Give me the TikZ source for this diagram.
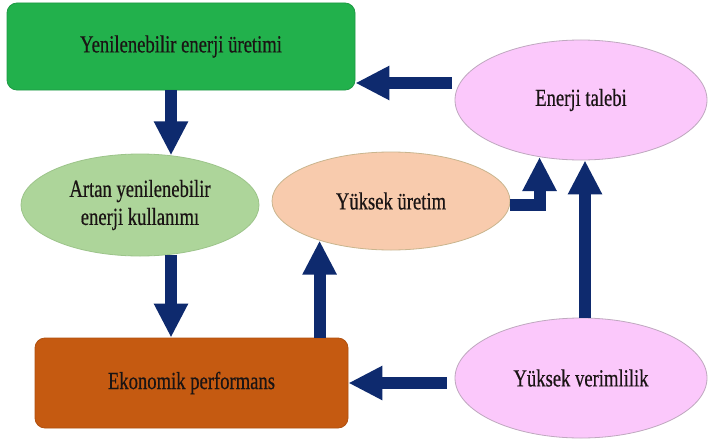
\documentclass[tikz,border=0pt]{standalone}
\usepackage{fontspec}
\setmainfont{Liberation Serif}
\newfontfamily\tfont{Liberation Serif}[FakeBold=0.6]
\usepackage{graphicx}
\usetikzlibrary{arrows.meta,shapes.geometric}
\definecolor{navy}{HTML}{0E2A6E}
\definecolor{gbox}{HTML}{22B14C}
\definecolor{gboxd}{HTML}{1E9A44}
\definecolor{lgreen}{HTML}{ADD59A}
\definecolor{lgreend}{HTML}{9CC48A}
\definecolor{peach}{HTML}{F8CBAD}
\definecolor{peachd}{HTML}{C9B58E}
\definecolor{pinkv}{HTML}{FBC8FB}
\definecolor{pinkvd}{HTML}{BFA8BF}
\definecolor{brown}{HTML}{C55A11}
\definecolor{brownd}{HTML}{B0500F}
\definecolor{txt}{HTML}{1A1414}
\newcommand{\tx}[1]{\scalebox{0.76}[1]{#1}}
\begin{document}
\begin{tikzpicture}[x=1pt,y=-1pt,
  every node/.style={text=txt,font=\tfont\fontsize{24.5}{30}\selectfont},
  boxnode/.style={rectangle,rounded corners=10pt,line width=0.8pt,inner sep=0pt},
  ellnode/.style={ellipse,line width=0.8pt,inner sep=0pt,align=center},
  arr/.style={draw=navy,line width=12pt,-{Triangle[length=34pt,width=32pt]}}]
\useasboundingbox[fill=white] (0,0) rectangle (708,444);
\node[boxnode,fill=gbox,draw=gboxd,minimum width=348pt,minimum height=87pt] (gr) at (181,46.5) {\tx{Yenilenebilir enerji üretimi}};
\node[ellnode,fill=lgreen,draw=lgreend,minimum width=238pt,minimum height=102pt] (art) at (140,205) {\tx{Artan yenilenebilir}\\[-2pt]\tx{enerji kullanımı}};
\node[boxnode,fill=brown,draw=brownd,minimum width=313pt,minimum height=90pt] (eko) at (191.5,383) {\tx{Ekonomik performans}};
\node[ellnode,fill=peach,draw=peachd,minimum width=238pt,minimum height=98pt] (yu) at (391,201) {\tx{Yüksek üretim}};
\node[ellnode,fill=pinkv,draw=pinkvd,minimum width=252pt,minimum height=120pt] (et) at (581,100) {\tx{Enerji talebi}};
\node[ellnode,fill=pinkv,draw=pinkvd,minimum width=252pt,minimum height=120pt] (yv) at (581,378) {\tx{Yüksek verimlilik}};
% connectors
\draw[arr] (art.58 |- gr.south) -- (art.58);
\draw[arr] (art.-58) -- (art.-58 |- eko.north);
\draw[arr] (yu.-151 |- eko.north) -- (yu.-151);
\draw[arr] ([yshift=-4pt]yu.east) -| (et.-126);
\draw[arr] ([xshift=4pt]yv.north) -- ([xshift=4pt]et.south);
\coordinate (c1) at (452,83);
\draw[arr] (c1) -- (c1 -| gr.east);
\draw[arr] ([xshift=-8pt]yv.west |- eko.east) -- (eko.east);
\end{tikzpicture}
\end{document}
